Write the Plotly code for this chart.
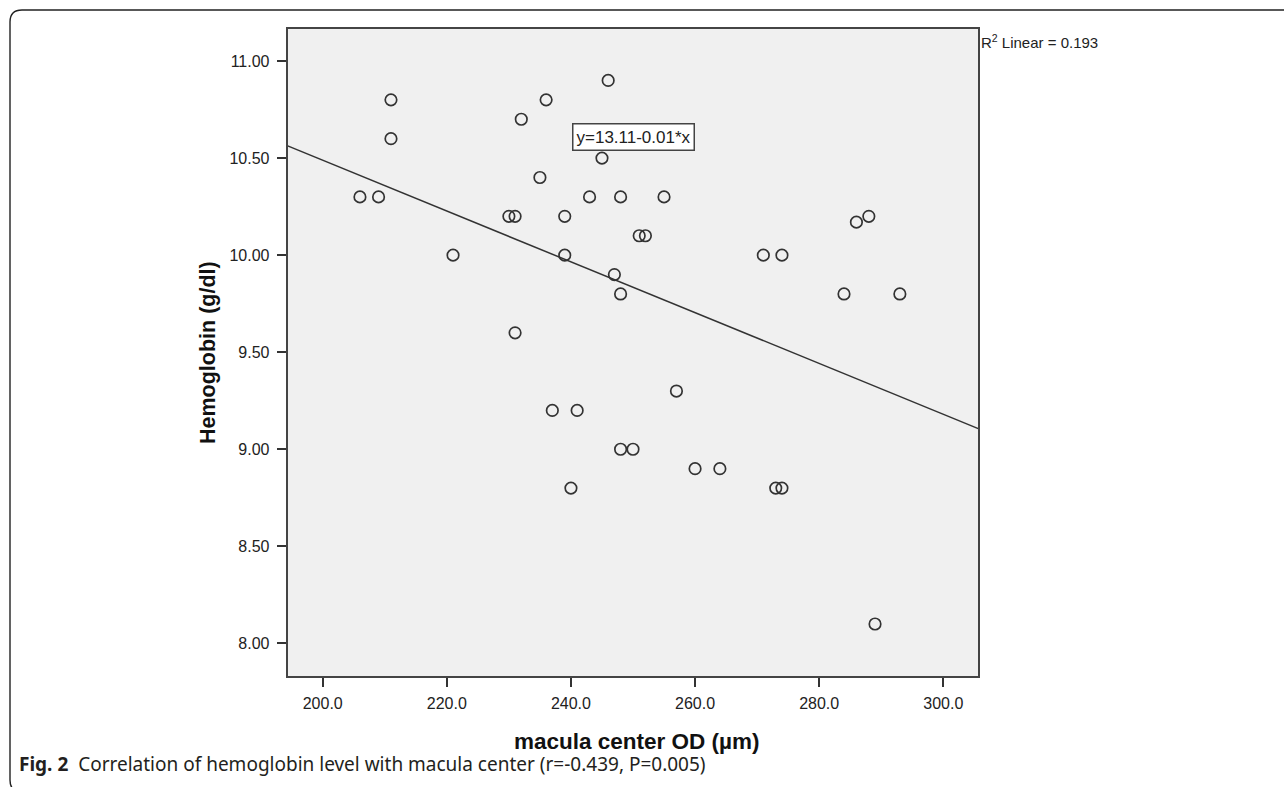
import numpy as np
import plotly.graph_objects as go

# ---- data ----
macula_center_od = [211, 211, 206, 209, 221, 232, 236, 246, 245, 235, 243, 248, 255,
                     230, 231, 239, 251, 252, 239, 247, 248, 231, 237, 241, 248, 250,
                     240, 257, 271, 274, 286, 288, 284, 293, 260, 264, 273, 274, 289]
hemoglobin = [10.8, 10.6, 10.3, 10.3, 10.0, 10.7, 10.8, 10.9, 10.5, 10.4, 10.3, 10.3, 10.3,
              10.2, 10.2, 10.2, 10.1, 10.1, 10.0, 9.9, 9.8, 9.6, 9.2, 9.2, 9.0, 9.0,
              8.8, 9.3, 10.0, 10.0, 10.17, 10.2, 9.8, 9.8, 8.9, 8.9, 8.8, 8.8, 8.1]
x_ticks = [200, 220, 240, 260, 280, 300]
y_ticks = [8.0, 8.5, 9.0, 9.5, 10.0, 10.5, 11.0]
x_range = [194.36, 305.64]
y_range = [7.832, 11.165]
equation_label = "y=13.11-0.01*x"
r2_label = "R<sup>2</sup> Linear = 0.193"
caption_bold = "Fig. 2"
caption_text = "Correlation of hemoglobin level with macula center (r=-0.439, P=0.005)"

W, H = 1284, 787
def px(x):
    return x / W
def py(y):
    return 1 - y / H

# regression line from the data
slope, intercept = np.polyfit(macula_center_od, hemoglobin, 1)
line_x = np.array(x_range)
line_y = intercept + slope * line_x

FONT = "Liberation Sans, Arial, sans-serif"

fig = go.Figure()
fig.add_trace(go.Scatter(
    x=line_x, y=line_y, mode="lines",
    line=dict(color="#333333", width=1.5),
    hoverinfo="skip", showlegend=False))
fig.add_trace(go.Scatter(
    x=macula_center_od, y=hemoglobin, mode="markers",
    marker=dict(symbol="circle-open", size=11.5, color="#333333",
                line=dict(color="#333333", width=1.7)),
    showlegend=False))

axis_common = dict(
    showgrid=False, zeroline=False, showline=True, mirror=True,
    linecolor="#444444", linewidth=2, ticks="outside", ticklen=9,
    tickwidth=2, tickcolor="#333333",
    tickfont=dict(family=FONT, size=16, color="#222222"))

fig.update_xaxes(range=x_range, tickvals=x_ticks,
                 ticktext=[f"{v:.1f}" for v in x_ticks],
                 domain=[px(287.7), px(978.3)], ticklabelstandoff=3,
                 **axis_common)
fig.update_yaxes(range=y_range, tickvals=y_ticks,
                 ticktext=[f"{v:.2f}" for v in y_ticks],
                 domain=[py(676), py(29)], ticklabelstandoff=4,
                 **axis_common)

frame_path = (f"M {px(22)},{py(792)} Q {px(10)},{py(792)} {px(10)},{py(780)} "
              f"L {px(10)},{py(22)} Q {px(10)},{py(10)} {px(22)},{py(10)} "
              f"L {px(1300)},{py(10)}")

fig.update_layout(
    width=W, height=H, autosize=False,
    margin=dict(l=0, r=0, t=0, b=0),
    paper_bgcolor="white", plot_bgcolor="#f0f0f0",
    shapes=[dict(type="path", xref="paper", yref="paper", path=frame_path,
                 line=dict(color="#222222", width=1.4))],
    annotations=[
        dict(x=250.0, y=10.61, xref="x", yref="y", text=equation_label,
             showarrow=False, font=dict(family=FONT, size=17, color="#222222"),
             bgcolor="white", bordercolor="#444444", borderwidth=1.5, borderpad=3,
             xanchor="center", yanchor="middle"),
        dict(x=px(979), y=py(42), xref="paper", yref="paper", text=r2_label,
             showarrow=False, font=dict(family=FONT, size=15, color="#222222"),
             xanchor="left", yanchor="middle"),
        dict(x=px(208), y=py(353), xref="paper", yref="paper",
             text="<b>Hemoglobin (g/dl)</b>", textangle=-90, showarrow=False,
             font=dict(family=FONT, size=21.5, color="#111111"),
             xanchor="center", yanchor="middle"),
        dict(x=px(637), y=py(741), xref="paper", yref="paper",
             text="<b>macula center OD (µm)</b>", showarrow=False,
             font=dict(family=FONT, size=22.5, color="#111111"),
             xanchor="center", yanchor="middle"),
        dict(x=px(17), y=py(764), xref="paper", yref="paper",
             text=f"<b>{caption_bold}</b>  {caption_text}", showarrow=False,
             font=dict(family="Noto Sans, Open Sans, sans-serif", size=19, color="#231f20"),
             xanchor="left", yanchor="middle"),
    ],
)

fig.write_html("out.html", config={"displayModeBar": False},
               post_script="document.body.style.margin='0px';")
